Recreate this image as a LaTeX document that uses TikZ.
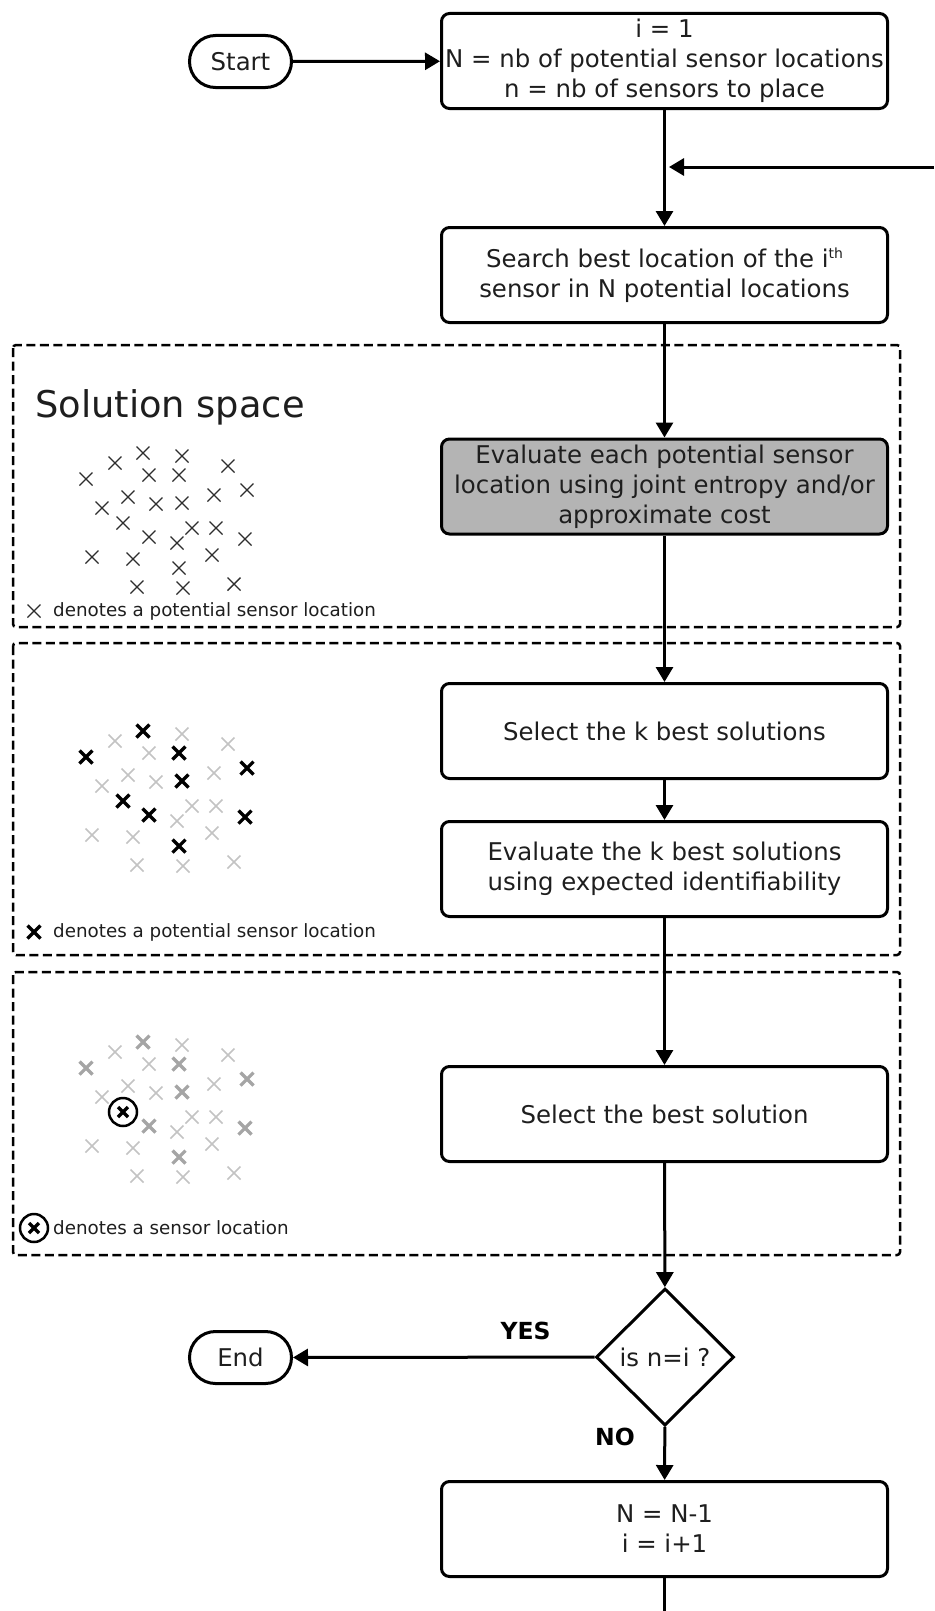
\documentclass[tikz,border=0pt]{standalone}
\usepackage{fontspec}
\setmainfont{DejaVu Sans}
\usetikzlibrary{arrows.meta,shapes.geometric}
\definecolor{boxgray}{RGB}{180,180,180}
\definecolor{lightx}{RGB}{195,195,195}
\definecolor{midx}{RGB}{165,165,165}
\definecolor{darkx}{RGB}{45,45,45}
\definecolor{txt}{RGB}{30,30,30}
\def\boldlist{143/453,179/475,86/479,247/490,182/503,149/537,245/539,179/568}
\def\restlist{182/456,115/463,228/466,149/475,128/497,156/504,214/495,102/508,192/528,216/528,177/543,92/557,133/559,212/555,137/587,183/588,234/584}
\begin{document}
\begin{tikzpicture}[x=1pt,y=-1pt,
  every node/.style={font=\fontsize{24.4}{30}\selectfont, text=txt},
  proc/.style={draw=black, line width=3pt, rounded corners=8pt, minimum width=446pt, minimum height=95pt, align=center, inner sep=2pt},
  term/.style={draw=black, line width=3pt, rounded corners=26pt, minimum width=102pt, minimum height=52pt, inner sep=0pt},
  decision/.style={draw=black, diamond, line width=3pt, minimum width=138pt, minimum height=137pt, inner sep=0pt, align=center},
  flow/.style={line width=3pt, -{Triangle[length=15pt,width=17pt]}},
  link/.style={line width=3pt},
  region/.style={line width=2.5pt, dash pattern=on 9pt off 4.5pt, rounded corners=3pt},
  legend/.style={font=\fontsize{18.3}{22}\selectfont, anchor=west, inner sep=0pt},
  yesno/.style={font=\bfseries\fontsize{23.5}{28}\selectfont, text=black},
  thinx/.style={draw=darkx, line width=1.4pt},
  lightcross/.style={draw=lightx, line width=1.7pt},
  blackcross/.style={draw=black, line width=3.2pt},
  midcross/.style={draw=midx, line width=3.2pt},
  sx/.pic={\draw[pic actions] (-6.5,-6.5) -- (6.5,6.5) (-6.5,6.5) -- (6.5,-6.5);},
  ox/.pic={\draw[line width=2.5pt] (0,0) circle (14);
           \draw[line width=3.5pt] (-5,-5) -- (5,5) (-5,5) -- (5,-5);}
]
\useasboundingbox (0,0) rectangle (934,1611);

% dashed regions
\draw[region] (13,345) rectangle (900,627);
\draw[region] (13,643) rectangle (900,955);
\draw[region] (13,972) rectangle (900,1255);

% flow nodes
\node[term] (start) at (240.5,61.5) {Start};
\node[proc] (init) at (664.5,61) {i = 1\\N = nb of potential sensor locations\\n = nb of sensors to place};
\node[proc] (search) at (664.5,275) {Search best location of the i\raisebox{0.7ex}{\fontsize{14}{14}\selectfont th}\\sensor in N potential locations};
\node[proc, fill=boxgray] (evalall) at (664.5,486.5) {Evaluate each potential sensor\\location using joint entropy and/or\\approximate cost};
\node[proc] (kbest) at (664.5,731) {Select the k best solutions};
\node[proc] (evalk) at (664.5,869) {Evaluate the k best solutions\\using expected identifiability};
\node[proc] (best) at (664.5,1114) {Select the best solution};
\node[decision] (decide) at (665,1357) {is n=i ?};
\node[term] (endn) at (240.5,1357.5) {End};
\node[proc] (update) at (664.5,1529) {N = N-1\\i = i+1};

\coordinate (loopin) at (934,167);
\coordinate (loopjoin) at (669,167);
\coordinate (loopout) at (664.5,1611);

% connectors
\draw[flow] (start) -- (init);
\draw[flow] (init) -- (search);
\draw[flow] (loopin) -- (loopjoin);
\draw[flow] (search) -- (evalall);
\draw[flow] (evalall) -- (kbest);
\draw[flow] (kbest) -- (evalk);
\draw[flow] (evalk) -- (best);
\draw[flow] (best) -- (decide);
\draw[flow] (decide) -- (endn);
\draw[flow] (decide) -- (update);
\draw[link] (update) -- (loopout);

\node[yesno] (yes) at (525.5,1330.5) {YES};
\node[yesno] (no) at (615,1437) {NO};

% solution space panel 1
\node[font=\fontsize{36.8}{40}\selectfont, anchor=base west, inner sep=0pt] (title) at (35,417) {Solution space};
\foreach \x/\y in \boldlist {\pic[thinx] at (\x,\y) {sx};}
\pic[thinx] at (123,523) {sx};
\foreach \x/\y in \restlist {\pic[thinx] at (\x,\y) {sx};}
\pic[thinx] at (34,611) {sx};
\node[legend] (leg1) at (53,611) {denotes a potential sensor location};

% panel 2
\foreach \x/\y in \restlist {\pic[lightcross] at (\x,\y+278) {sx};}
\foreach \x/\y in \boldlist {\pic[blackcross] at (\x,\y+278) {sx};}
\pic[blackcross] at (123,801) {sx};
\pic[blackcross] at (34,932) {sx};
\node[legend] (leg2) at (53,932) {denotes a potential sensor location};

% panel 3
\foreach \x/\y in \restlist {\pic[lightcross] at (\x,\y+589) {sx};}
\foreach \x/\y in \boldlist {\pic[midcross] at (\x,\y+589) {sx};}
\pic at (123,1112) {ox};
\pic at (34,1228) {ox};
\node[legend] (leg3) at (53,1228) {denotes a sensor location};
\end{tikzpicture}
\end{document}
